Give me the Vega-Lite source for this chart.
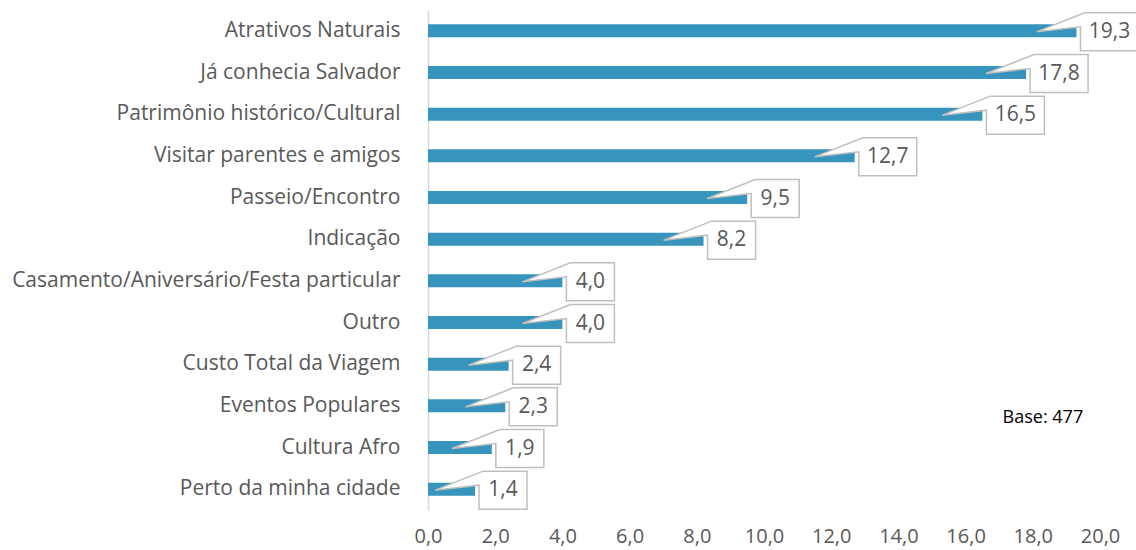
{
  "$schema": "https://vega.github.io/schema/vega-lite/v6.json",
  "width": 672,
  "height": 500,
  "autosize": {"type": "none"},
  "padding": {"left": 428, "top": 10, "right": 36, "bottom": 40},
  "background": "white",
  "config": {
    "view": {"stroke": null},
    "font": "Open Sans",
    "locale": {"number": {"decimal": ",", "thousands": ".", "grouping": [3], "currency": ["R$", ""]}}
  },
  "data": {
    "values": [
      {"motivo": "Atrativos Naturais", "pct": 19.3},
      {"motivo": "Já conhecia Salvador", "pct": 17.8},
      {"motivo": "Patrimônio histórico/Cultural", "pct": 16.5},
      {"motivo": "Visitar parentes e amigos", "pct": 12.7},
      {"motivo": "Passeio/Encontro", "pct": 9.5},
      {"motivo": "Indicação", "pct": 8.2},
      {"motivo": "Casamento/Aniversário/Festa particular", "pct": 4.0},
      {"motivo": "Outro", "pct": 4.0},
      {"motivo": "Custo Total da Viagem", "pct": 2.4},
      {"motivo": "Eventos Populares", "pct": 2.3},
      {"motivo": "Cultura Afro", "pct": 1.9},
      {"motivo": "Perto da minha cidade", "pct": 1.4}
    ]
  },
  "encoding": {
    "y": {
      "field": "motivo", "type": "nominal", "sort": null,
      "scale": {"paddingInner": 0, "paddingOuter": 0},
      "axis": {
        "title": null, "ticks": false, "labelFontSize": 21, "labelColor": "#595959",
        "labelPadding": 28, "domainColor": "#D9D9D9", "domainWidth": 1.5, "labelLimit": 500
      }
    },
    "x": {
      "field": "pct", "type": "quantitative",
      "scale": {"domain": [0, 20], "nice": false},
      "axis": {
        "title": null, "grid": false, "domain": false, "ticks": false,
        "values": [0, 2, 4, 6, 8, 10, 12, 14, 16, 18, 20],
        "format": ".1f", "labelFlush": false, "labelOverlap": false,
        "labelFontSize": 20, "labelColor": "#595959", "labelPadding": 16
      }
    }
  },
  "layer": [
    {"mark": {"type": "bar", "height": 13, "color": "#3794BC"}},
    {
      "transform": [{"filter": "datum.pct >= 10"}],
      "mark": {
        "type": "point", "filled": true, "fill": "white", "stroke": "#BFBFBF", "strokeWidth": 1.5,
        "opacity": 1, "size": 6400,
        "shape": "M0.2,-0.45L1.55,-0.45L1.55,0.5L0.1,0.5L0.1,-0.1L-1,0.025Z"
      }
    },
    {
      "transform": [{"filter": "datum.pct < 10"}],
      "mark": {
        "type": "point", "filled": true, "fill": "white", "stroke": "#BFBFBF", "strokeWidth": 1.5,
        "opacity": 1, "size": 6400,
        "shape": "M0.2,-0.45L1.3,-0.45L1.3,0.5L0.1,0.5L0.1,-0.1L-1,0.025Z"
      }
    },
    {
      "transform": [{"filter": "datum.pct >= 10"}],
      "mark": {"type": "text", "fontSize": 21, "color": "#595959", "align": "center", "baseline": "middle", "xOffset": 33, "yOffset": 1},
      "encoding": {"text": {"field": "pct", "type": "quantitative", "format": ".1f"}}
    },
    {
      "transform": [{"filter": "datum.pct < 10"}],
      "mark": {"type": "text", "fontSize": 21, "color": "#595959", "align": "center", "baseline": "middle", "xOffset": 28, "yOffset": 1},
      "encoding": {"text": {"field": "pct", "type": "quantitative", "format": ".1f"}}
    },
    {
      "transform": [{"filter": "datum.motivo == 'Eventos Populares'"}],
      "mark": {"type": "text", "fontSize": 18, "color": "#000000", "align": "center", "baseline": "middle", "yOffset": 12},
      "encoding": {
        "x": {"datum": 18.3, "type": "quantitative"},
        "text": {"value": "Base: 477"}
      }
    }
  ]
}
